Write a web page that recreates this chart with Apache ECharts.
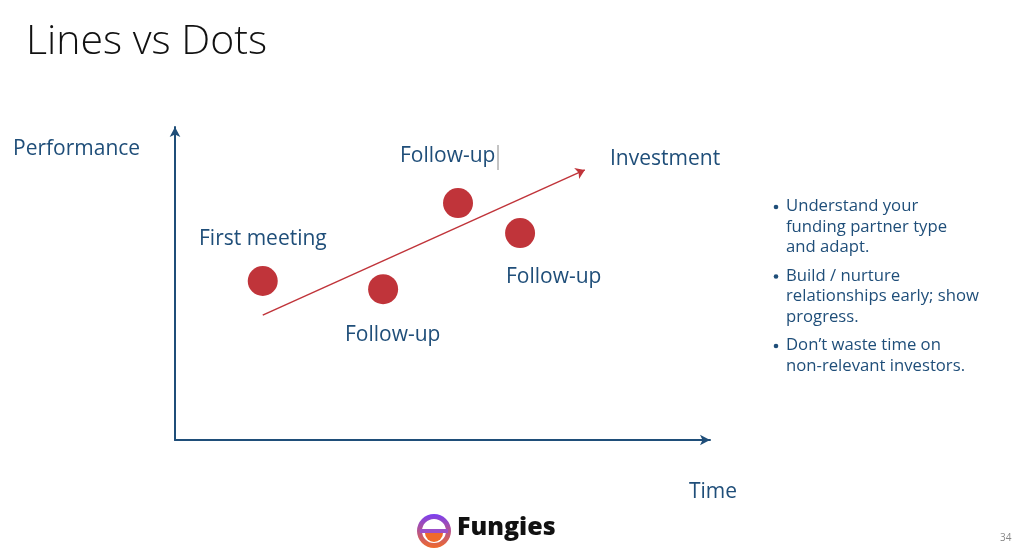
<!DOCTYPE html><html><head><meta charset="utf-8"><script src="https://cdn.jsdelivr.net/npm/echarts@6/dist/echarts.min.js"></script>
<style>html,body{margin:0;background:#fff}#c{width:1024px;height:553px}</style></head><body><div id="c"></div><script>
const dotNames=['First meeting','Follow-up','Follow-up','Follow-up'];
const dotX=[16.4,38.9,52.9,64.5];
const dotY=[50.8,48.2,75.7,66.1];
const trendStart=[16.4,39.9];
const trendEnd=[76.6,86.3];
const bullets=['Understand your\nfunding partner type\nand adapt.','Build / nurture\nrelationships early; show\nprogress.','Don’t waste time on\nnon-relevant investors.'];
const blue='#1F4E79', red='#C0343A', F='"Open Sans", sans-serif';
const ch=echarts.init(document.getElementById('c'));
function t(x,y,s,size,extra){return Object.assign({type:'text',left:x,top:y,style:{text:s,font:(size)+'px '+F,fill:blue}},extra||{});}
const grad=new echarts.graphic.LinearGradient(0,0,0,1,[{offset:0,color:'#7B3FF2'},{offset:1,color:'#F06A2A'}]);
const g=[
 {type:'text',left:26,top:22,style:{text:'Lines vs Dots',font:'300 41px '+F,fill:'#111'}},
 t(13,139,'Performance',21), t(689,482,'Time',21), t(610,149,'Investment',21),
 t(199,229,'First meeting',21), t(400,146,'Follow-up',21), t(345,325,'Follow-up',21), t(506,267,'Follow-up',21),
 {type:'line',shape:{x1:498,y1:145,x2:498,y2:170},style:{stroke:'#888',lineWidth:1}},
 t(1000,533,'34',10,{style:{text:'34',font:'10px '+F,fill:'#888'}}),
 {type:'ring',shape:{cx:434,cy:531,r:17,r0:12},style:{fill:grad}},
 {type:'rect',shape:{x:420,y:529,width:28,height:4},style:{fill:'#9C4FC8'}},
 {type:'sector',shape:{cx:434,cy:533,r:9,startAngle:0,endAngle:Math.PI},style:{fill:'#F06A2A'}},
 {type:'text',left:457,top:515,style:{text:'Fungies',font:'800 25px '+F,fill:'#111'}}
];
let by=196;
bullets.forEach(b=>{const n=b.split('\n').length;
 g.push({type:'circle',shape:{cx:776,cy:by+11,r:2.3},style:{fill:blue}});
 g.push(t(786,by,b,16.7,{style:{text:b,font:'16.7px '+F,fill:blue,lineHeight:20.5}}));
 by+=n*20.5+8;});
ch.setOption({animation:false,graphic:g,
 grid:{left:175,right:314,top:127,bottom:113},
 xAxis:{type:'value',min:0,max:100,axisLine:{lineStyle:{color:blue,width:2},symbol:['none','arrow'],symbolSize:[8,10]},axisTick:{show:false},axisLabel:{show:false},splitLine:{show:false}},
 yAxis:{type:'value',min:0,max:100,axisLine:{show:true,lineStyle:{color:blue,width:2},symbol:['none','arrow'],symbolSize:[8,10]},axisTick:{show:false},axisLabel:{show:false},splitLine:{show:false}},
 series:[
  {type:'lines',coordinateSystem:'cartesian2d',symbol:['none','arrow'],symbolSize:9,lineStyle:{color:red,width:1.5,opacity:1},data:[{coords:[trendStart,trendEnd]}]},
  {type:'scatter',symbolSize:30,itemStyle:{color:red,opacity:1},data:dotX.map((x,i)=>({name:dotNames[i],value:[x,dotY[i]]}))}
 ]});
</script></body></html>
